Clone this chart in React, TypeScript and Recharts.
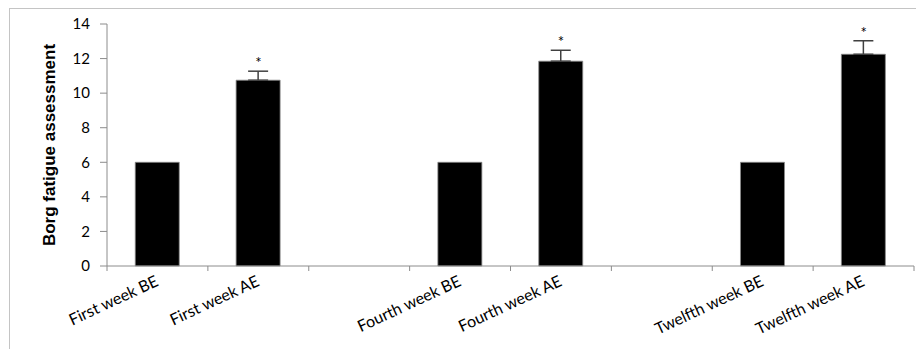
import {
  ComposedChart,
  Bar,
  Line,
  XAxis,
  YAxis,
  ErrorBar,
  LabelList,
} from 'recharts';

// categories (blank slots separate the week groups)
const categories = [
  'First week BE',
  'First week AE',
  '',
  'Fourth week BE',
  'Fourth week AE',
  '',
  'Twelfth week BE',
  'Twelfth week AE',
];
const borgValues = [6, 10.75, null, 6, 11.85, null, 6, 12.25];
const errUpper = [null, 0.52, null, null, 0.63, null, null, 0.78];
const significance = [null, '*', null, null, '*', null, null, '*'];
const yTicks = [0, 2, 4, 6, 8, 10, 12, 14];

const chartData = categories.map((name, i) => ({
  name,
  value: borgValues[i],
  err: errUpper[i] == null ? null : [0, errUpper[i]],
  top: significance[i] ? (borgValues[i] as number) + (errUpper[i] as number) : null,
  mark: significance[i],
}));

const tickFont = 'Lato, "Open Sans", sans-serif';
const axisGray = '#8c8c8c';

// Excel-style: tick marks sit between categories, labels slanted under the centre
const CategoryTick = (props: any) => {
  const { x, y, payload, index, width, visibleTicksCount } = props;
  const half = width / visibleTicksCount / 2;
  const ax = x + 2;
  const ay = y + 19;
  return (
    <g>
      <line x1={x - half} y1={y} x2={x - half} y2={y + 5} stroke={axisGray} />
      {index === visibleTicksCount - 1 && (
        <line x1={x + half} y1={y} x2={x + half} y2={y + 5} stroke={axisGray} />
      )}
      {payload.value && (
        <text
          x={ax}
          y={ay}
          transform={`rotate(-25 ${ax} ${ay})`}
          textAnchor="end"
          fontFamily={tickFont}
          fontSize={16}
          fill="#000"
        >
          {payload.value}
        </text>
      )}
    </g>
  );
};

const YTitle = (props: any) => {
  const vb = props.viewBox;
  const cx = vb.x + 45;
  const cy = vb.y + vb.height / 2;
  return (
    <text
      x={cx}
      y={cy}
      transform={`rotate(-90 ${cx} ${cy})`}
      textAnchor="middle"
      fontFamily='"Liberation Sans", Arial, sans-serif'
      fontWeight="bold"
      fontSize={17}
      fill="#000"
    >
      Borg fatigue assessment
    </text>
  );
};

export default function App() {
  return (
    <div
      style={{
        width: 916,
        height: 341,
        marginLeft: 1,
        borderTop: '1px solid #c4c4c4',
        borderLeft: '1px solid #c4c4c4',
        overflow: 'hidden',
        background: '#fff',
      }}
    >
      <ComposedChart
        width={915}
        height={340}
        data={chartData}
        margin={{ top: 15, right: 11, left: 0, bottom: 0 }}
        barCategoryGap="28%"
      >
        <XAxis
          dataKey="name"
          height={83}
          interval={0}
          axisLine={{ stroke: axisGray }}
          tickLine={false}
          tickSize={0}
          tickMargin={0}
          tick={<CategoryTick />}
        />
        <YAxis
          width={97}
          domain={[0, 14]}
          ticks={yTicks}
          interval={0}
          axisLine={{ stroke: axisGray }}
          tickLine={{ stroke: axisGray }}
          tickSize={7}
          tickMargin={10}
          tick={{ fill: '#000', fontSize: 15, fontFamily: tickFont }}
          label={{ content: <YTitle /> }}
        />
        <Bar
          dataKey="value"
          fill="#000"
          stroke="#8a8a8a"
          strokeWidth={0.8}
          isAnimationActive={false}
        >
          <ErrorBar
            dataKey="err"
            direction="y"
            width={10}
            stroke="#404040"
            strokeWidth={1.5}
            isAnimationActive={false}
          />
        </Bar>
        <Line
          dataKey="top"
          stroke="none"
          dot={false}
          activeDot={false}
          isAnimationActive={false}
        >
          <LabelList
            dataKey="mark"
            position="top"
            offset={3}
            fill="#000"
            fontSize={15}
            fontFamily={tickFont}
          />
        </Line>
      </ComposedChart>
    </div>
  );
}
